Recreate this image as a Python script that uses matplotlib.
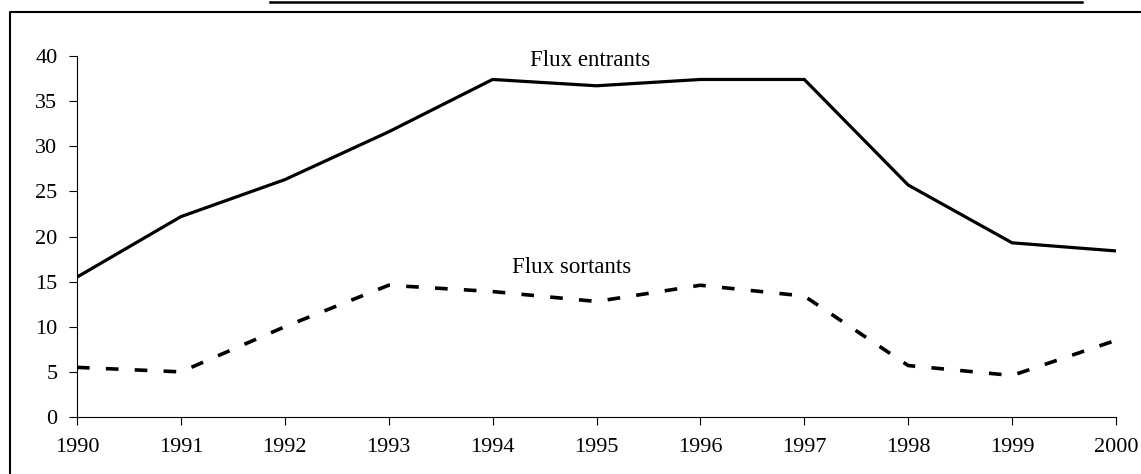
import matplotlib
matplotlib.use('Agg')
import matplotlib.pyplot as plt
from matplotlib.lines import Line2D

years = [1990, 1991, 1992, 1993, 1994, 1995, 1996, 1997, 1998, 1999, 2000]
flux_entrants = [15.5, 22.2, 26.3, 31.6, 37.4, 36.7, 37.4, 37.4, 25.7, 19.3, 18.4]
flux_sortants = [5.5, 5.0, 10.0, 14.6, 13.9, 12.8, 14.6, 13.4, 5.7, 4.6, 8.5]
y_ticks = [0, 5, 10, 15, 20, 25, 30, 35, 40]

plt.rcParams['font.family'] = ['Liberation Serif', 'DejaVu Serif']

fig = plt.figure(figsize=(11.41, 4.74), dpi=100)
ax = fig.add_axes([77/1141, 57/474, (1116-77)/1141, (418-57)/474])

ax.plot(years, flux_entrants, color='black', lw=2.3, solid_joinstyle='miter')
ax.plot(years, flux_sortants, color='black', lw=2.6, linestyle=(0, (3.5, 4.5)))

ax.text(1994.94, 38.9, 'Flux entrants', fontsize=16.5, ha='center', va='baseline')
ax.text(1994.76, 15.95, 'Flux sortants', fontsize=16.5, ha='center', va='baseline')

ax.set_xlim(1990, 2000)
ax.set_ylim(0, 40)
ax.set_xticks(years)
ax.set_yticks(y_ticks)
ax.tick_params(axis='both', labelsize=16, direction='out', color='black', width=0.8)
ax.tick_params(axis='x', length=6, pad=9)
ax.tick_params(axis='y', length=6, pad=8)
for side in ['top', 'right']:
    ax.spines[side].set_visible(False)
for side in ['left', 'bottom']:
    ax.spines[side].set_linewidth(0.8)

# outer frame (clipped at the right and bottom in the original)
fig.add_artist(Line2D([10/1141, 10/1141, 1.0], [0.0, 1 - 12/474, 1 - 12/474],
                      transform=fig.transFigure, color='black', lw=1.5))
fig.add_artist(Line2D([270/1141, 1082/1141], [1 - 1.5/474, 1 - 1.5/474],
                      transform=fig.transFigure, color='black', lw=1.8))

fig.savefig('out.png', dpi=100)
